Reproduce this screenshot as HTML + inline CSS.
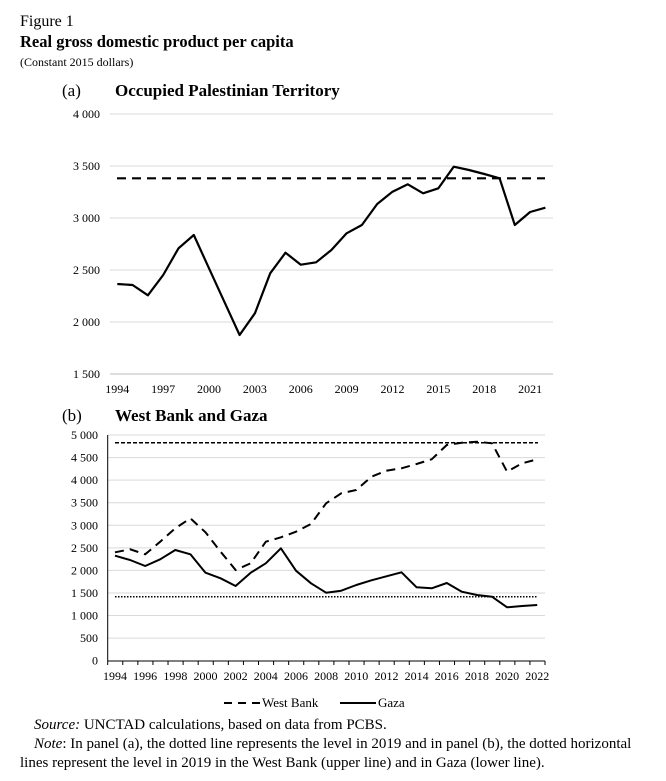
<!DOCTYPE html>
<html><head><meta charset="utf-8"><style>
body{margin:0;background:#fff;width:666px;height:781px;overflow:hidden;font-family:"Liberation Serif",serif}
svg{position:absolute;left:0;top:0}
</style></head><body>
<svg id="s" width="666" height="781" xmlns="http://www.w3.org/2000/svg" font-family="Liberation Serif, serif" fill="#000">
<text x="20" y="26" font-size="16">Figure 1</text>
<text x="20" y="47" font-size="16.5" font-weight="bold">Real gross domestic product per capita</text>
<text x="20" y="66" font-size="12">(Constant 2015 dollars)</text>
<text x="62" y="96" font-size="17">(a)</text>
<text x="115" y="96" font-size="17" font-weight="bold">Occupied Palestinian Territory</text>
<text x="62" y="421" font-size="17">(b)</text>
<text x="115" y="421" font-size="17" font-weight="bold">West Bank and Gaza</text>
<g id="a"></g><g id="b"></g>
<g font-size="13">
<line x1="224" y1="703" x2="260" y2="703" stroke="#000" stroke-width="2" stroke-dasharray="8,6"/>
<text x="262" y="707">West Bank</text>
<line x1="340" y1="703" x2="376" y2="703" stroke="#000" stroke-width="2"/>
<text x="378" y="707">Gaza</text>
</g>
<text x="34" y="729" font-size="15"><tspan font-style="italic">Source:</tspan> UNCTAD calculations, based on data from PCBS.</text>
<text x="34" y="748" font-size="15"><tspan font-style="italic">Note</tspan>: In panel (a), the dotted line represents the level in 2019 and in panel (b), the dotted horizontal</text>
<text x="20" y="767" font-size="15">lines represent the level in 2019 in the West Bank (upper line) and in Gaza (lower line).</text>
</svg>
<script>
var NS="http://www.w3.org/2000/svg";
function el(p,t,a,txt){var e=document.createElementNS(NS,t);for(var k in a)e.setAttribute(k,a[k]);if(txt!=null)e.textContent=txt;p.appendChild(e);return e;}
var A=document.getElementById('a');
var ya=function(v){return 114+(4000-v)*0.104;};
[4000,3500,3000,2500,2000,1500].forEach(function(v){var y=ya(v);
 el(A,'line',{x1:110,x2:553,y1:y,y2:y,stroke:v==1500?'#bbb':'#d9d9d9','stroke-width':1});
 el(A,'text',{x:100,y:y+4,'font-size':12,'text-anchor':'end'},v.toString().replace(/(\d)(\d{3})$/,'$1 $2'));});
var za=[552,555,586,525,445,405,505,605,705,640,520,458,494,487,450,400,375,312,275,253,280,265,200,210,222,235,375,336,323];
var pa=za.map(function(z,i){return (117.3+i*15.29).toFixed(1)+','+(100+z/3).toFixed(1);}).join(' ');
el(A,'line',{x1:117,x2:545,y1:178.3,y2:178.3,stroke:'#000','stroke-width':2.2,'stroke-dasharray':'9,6'});
el(A,'polyline',{points:pa,fill:'none',stroke:'#000','stroke-width':2.2,'stroke-linejoin':'round'});
for(var i=0;i<=27;i+=3)el(A,'text',{x:117.3+i*15.29,y:393,'font-size':12,'text-anchor':'middle'},1994+i);
var B=document.getElementById('b');
var yb=function(v){return 660.7-v*0.04514;};
for(var v=0;v<=5000;v+=500){var y=yb(v);
 if(v>0)el(B,'line',{x1:108,x2:545,y1:y,y2:y,stroke:'#d9d9d9','stroke-width':1});
 el(B,'text',{x:98,y:y+4,'font-size':12,'text-anchor':'end'},v.toString().replace(/(\d)(\d{3})$/,'$1 $2'));}
el(B,'line',{x1:107.7,x2:107.7,y1:435,y2:661,stroke:'#000','stroke-width':1});
el(B,'line',{x1:107.7,x2:545,y1:661,y2:661,stroke:'#000','stroke-width':1});
for(var i=0;i<=29;i++){var x=107.7+i*15.08;el(B,'line',{x1:x,x2:x,y1:661,y2:665,stroke:'#000','stroke-width':1});}
for(var i=0;i<=28;i+=2)el(B,'text',{x:115+i*15.08,y:680,'font-size':12,'text-anchor':'middle'},1994+i);
var wb=[397,388,403,365,325,295,337,395,450,430,365,352,335,312,250,220,210,170,152,145,132,118,75,68,65,70,155,130,118];
var gz=[407,420,438,418,390,403,458,475,498,458,430,385,452,490,518,512,495,481,469,457,502,505,489,515,525,530,562,558,555];
function pts(z){return z.map(function(v,i){return (115+i*15.08).toFixed(1)+','+(420+v/3).toFixed(1);}).join(' ');}
el(B,'line',{x1:115,x2:538,y1:442.7,y2:442.7,stroke:'#000','stroke-width':1.5,'stroke-dasharray':'4,2'});
el(B,'line',{x1:115,x2:538,y1:596.7,y2:596.7,stroke:'#000','stroke-width':1.5,'stroke-dasharray':'1.5,1.5'});
el(B,'polyline',{points:pts(wb),fill:'none',stroke:'#000','stroke-width':2,'stroke-dasharray':'9,6'});
el(B,'polyline',{points:pts(gz),fill:'none',stroke:'#000','stroke-width':2,'stroke-linejoin':'round'});
</script>
</body></html>
